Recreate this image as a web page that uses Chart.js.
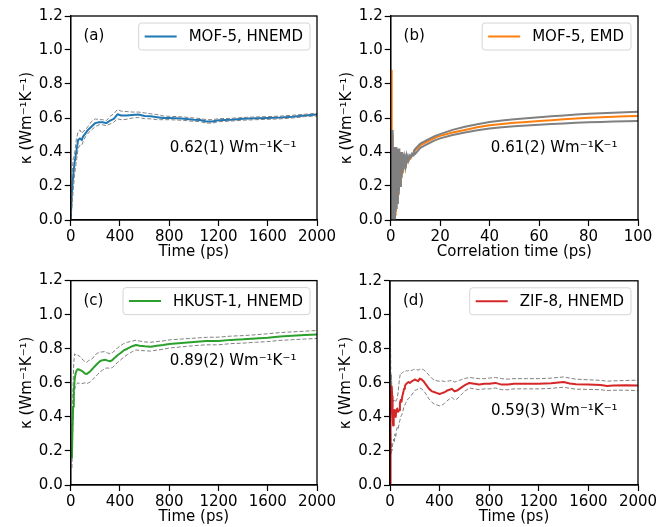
<!DOCTYPE html>
<html>
<head>
<meta charset="utf-8">
<script src="https://cdn.jsdelivr.net/npm/chart.js@4.4.1/dist/chart.umd.min.js"></script>
<style>
  html, body { margin: 0; padding: 0; background: #fff; overflow: hidden; }
  body { width: 670px; height: 527px; position: relative; }
  canvas { position: absolute; }
</style>
</head>
<body>
<canvas id="panelA"></canvas>
<canvas id="panelB"></canvas>
<canvas id="panelC"></canvas>
<canvas id="panelD"></canvas>
<script>
// (a) MOF-5, HNEMD
const aTime = [0, 10, 20, 30, 45, 60, 75, 90, 100, 120, 140, 170, 200, 230, 260, 290, 320, 350, 380, 410, 450, 500, 550, 600, 650, 700, 750, 800, 900, 1000, 1050, 1100, 1150, 1200, 1300, 1400, 1500, 1600, 1700, 1800, 1900, 2000];
const aKappa = [0, 0.17, 0.26, 0.33, 0.40, 0.47, 0.48, 0.47, 0.49, 0.51, 0.53, 0.55, 0.57, 0.575, 0.575, 0.57, 0.585, 0.595, 0.622, 0.615, 0.615, 0.618, 0.62, 0.612, 0.61, 0.605, 0.60, 0.60, 0.597, 0.59, 0.588, 0.58, 0.58, 0.587, 0.59, 0.595, 0.598, 0.60, 0.603, 0.608, 0.615, 0.62];
const aUpper = [0, 0.25, 0.36, 0.38, 0.47, 0.52, 0.53, 0.51, 0.52, 0.53, 0.55, 0.58, 0.595, 0.59, 0.59, 0.585, 0.61, 0.625, 0.65, 0.64, 0.638, 0.635, 0.635, 0.63, 0.625, 0.62, 0.612, 0.61, 0.607, 0.6, 0.597, 0.59, 0.59, 0.596, 0.598, 0.603, 0.606, 0.608, 0.611, 0.616, 0.622, 0.628];
const aLower = [0, 0.08, 0.17, 0.26, 0.34, 0.42, 0.44, 0.44, 0.46, 0.49, 0.51, 0.53, 0.55, 0.56, 0.56, 0.555, 0.565, 0.575, 0.595, 0.59, 0.592, 0.6, 0.603, 0.596, 0.595, 0.59, 0.59, 0.59, 0.587, 0.58, 0.579, 0.57, 0.57, 0.578, 0.582, 0.587, 0.59, 0.592, 0.595, 0.6, 0.608, 0.612];

// (b) MOF-5, EMD (correlation time in ps)
const bTime = [0, 0.2, 0.4, 0.6, 0.8, 1.0, 1.2, 1.4, 1.6, 1.8, 2.0, 2.3, 2.6, 2.9, 3.2, 3.5, 3.8, 4.1, 4.4, 4.7, 5.0, 5.5, 6, 6.5, 7, 7.5, 8, 8.5, 9, 9.5, 10, 12, 14, 16, 18, 20, 25, 30, 35, 40, 45, 50, 55, 60, 65, 70, 75, 80, 85, 90, 95, 100];
const bKappa = [0, 0.88, 0.2, 0.5, 0.1, 0.4, 0.0, 0.3, 0.0, 0.35, 0.03, 0.38, 0.1, 0.38, 0.15, 0.38, 0.2, 0.37, 0.25, 0.37, 0.28, 0.36, 0.31, 0.36, 0.34, 0.37, 0.36, 0.38, 0.38, 0.40, 0.41, 0.44, 0.455, 0.47, 0.485, 0.495, 0.515, 0.53, 0.545, 0.557, 0.565, 0.572, 0.577, 0.582, 0.587, 0.592, 0.597, 0.602, 0.605, 0.608, 0.61, 0.612];
const bUpper = [0, 0.15, 0.3, 0.53, 0.05, 0.43, 0.0, 0.42, 0.0, 0.43, 0.05, 0.43, 0.1, 0.42, 0.15, 0.42, 0.2, 0.40, 0.25, 0.40, 0.29, 0.39, 0.32, 0.38, 0.35, 0.38, 0.37, 0.39, 0.385, 0.41, 0.42, 0.45, 0.465, 0.48, 0.495, 0.505, 0.53, 0.548, 0.563, 0.576, 0.585, 0.593, 0.598, 0.604, 0.61, 0.615, 0.62, 0.625, 0.628, 0.631, 0.634, 0.637];
const bLowerTime = [0, 0.3, 0.5, 0.7, 0.9, 1.1, 1.3, 1.5, 1.7, 1.9, 2.15, 2.45, 2.75, 3.05, 3.35, 3.65, 3.95, 4.25, 4.55, 4.85, 5.25, 5.75, 6.25, 6.75, 7.25, 7.75, 8.25, 8.75, 9.25, 9.75, 10, 12, 14, 16, 18, 20, 25, 30, 35, 40, 45, 50, 55, 60, 65, 70, 75, 80, 85, 90, 95, 100];
const bLower = [0, 0.2, 0.0, 0.36, 0.0, 0.40, 0.0, 0.41, 0.0, 0.42, 0.07, 0.41, 0.12, 0.41, 0.17, 0.40, 0.22, 0.39, 0.27, 0.38, 0.30, 0.37, 0.33, 0.37, 0.35, 0.37, 0.37, 0.38, 0.38, 0.395, 0.39, 0.425, 0.44, 0.455, 0.47, 0.48, 0.5, 0.515, 0.528, 0.538, 0.546, 0.552, 0.556, 0.56, 0.564, 0.568, 0.572, 0.575, 0.577, 0.579, 0.581, 0.583];

// (c) HKUST-1, HNEMD
const cTime = [10, 15, 20, 25, 32, 40, 50, 60, 75, 90, 100, 115, 130, 145, 160, 180, 200, 220, 240, 260, 280, 300, 320, 340, 360, 380, 400, 430, 460, 500, 530, 560, 600, 650, 700, 750, 800, 900, 1000, 1100, 1200, 1300, 1400, 1500, 1600, 1700, 1800, 1900, 2000];
const cKappa = [0.157, 0.35, 0.46, 0.55, 0.62, 0.655, 0.675, 0.68, 0.675, 0.67, 0.665, 0.655, 0.652, 0.66, 0.668, 0.685, 0.70, 0.715, 0.728, 0.733, 0.735, 0.73, 0.726, 0.735, 0.748, 0.762, 0.772, 0.79, 0.80, 0.815, 0.822, 0.818, 0.814, 0.812, 0.818, 0.822, 0.828, 0.834, 0.84, 0.845, 0.845, 0.852, 0.855, 0.86, 0.865, 0.872, 0.876, 0.88, 0.884];
const cUpper = [0.3, 0.45, 0.6, 0.72, 0.77, 0.765, 0.77, 0.76, 0.755, 0.74, 0.735, 0.725, 0.72, 0.73, 0.735, 0.745, 0.765, 0.775, 0.78, 0.782, 0.783, 0.775, 0.77, 0.778, 0.79, 0.805, 0.815, 0.83, 0.838, 0.845, 0.85, 0.845, 0.84, 0.838, 0.842, 0.846, 0.852, 0.857, 0.862, 0.867, 0.868, 0.874, 0.877, 0.882, 0.888, 0.895, 0.899, 0.903, 0.907];
const cLower = [0.1, 0.3, 0.4, 0.5, 0.56, 0.585, 0.595, 0.6, 0.595, 0.595, 0.597, 0.6, 0.595, 0.6, 0.605, 0.62, 0.635, 0.65, 0.665, 0.675, 0.685, 0.687, 0.685, 0.69, 0.705, 0.72, 0.73, 0.75, 0.765, 0.783, 0.793, 0.79, 0.788, 0.786, 0.792, 0.797, 0.804, 0.811, 0.818, 0.823, 0.823, 0.83, 0.833, 0.838, 0.842, 0.849, 0.853, 0.857, 0.86];

// (d) ZIF-8, HNEMD
const dTime = [0, 3, 6, 9, 12, 15, 18, 21, 25, 30, 35, 40, 46, 52, 59, 66, 73, 80, 86, 93, 99, 106, 113, 120, 126, 133, 140, 150, 160, 170, 180, 190, 200, 214, 227, 240, 255, 270, 290, 315, 340, 360, 380, 400, 420, 440, 460, 480, 500, 520, 540, 560, 580, 600, 640, 680, 720, 760, 800, 850, 900, 950, 1000, 1100, 1200, 1300, 1400, 1450, 1500, 1600, 1700, 1750, 1800, 1900, 2000];
const dKappa = [0, 0.3, 0.55, 0.5, 0.57, 0.58, 0.52, 0.42, 0.35, 0.4, 0.44, 0.41, 0.40, 0.44, 0.45, 0.43, 0.44, 0.48, 0.5, 0.49, 0.52, 0.54, 0.565, 0.58, 0.59, 0.595, 0.60, 0.605, 0.60, 0.605, 0.612, 0.615, 0.62, 0.615, 0.61, 0.625, 0.62, 0.61, 0.59, 0.565, 0.55, 0.545, 0.54, 0.535, 0.54, 0.545, 0.555, 0.56, 0.565, 0.55, 0.555, 0.565, 0.575, 0.585, 0.6, 0.595, 0.59, 0.595, 0.595, 0.6, 0.59, 0.59, 0.595, 0.595, 0.595, 0.598, 0.605, 0.597, 0.592, 0.59, 0.588, 0.582, 0.585, 0.586, 0.585];
const dUpper = [0, 0.95, 0.7, 0.5, 0.65, 0.55, 0.5, 0.48, 0.49, 0.5, 0.495, 0.5, 0.49, 0.5, 0.51, 0.55, 0.6, 0.64, 0.66, 0.655, 0.66, 0.665, 0.665, 0.67, 0.668, 0.672, 0.67, 0.672, 0.675, 0.672, 0.675, 0.678, 0.68, 0.678, 0.675, 0.68, 0.682, 0.678, 0.665, 0.645, 0.625, 0.615, 0.612, 0.61, 0.612, 0.608, 0.61, 0.612, 0.615, 0.605, 0.61, 0.615, 0.62, 0.625, 0.632, 0.628, 0.625, 0.625, 0.628, 0.632, 0.625, 0.622, 0.625, 0.625, 0.625, 0.628, 0.635, 0.628, 0.622, 0.618, 0.615, 0.61, 0.612, 0.614, 0.616];
const dLower = [0, 0.1, 0.3, 0.18, 0.25, 0.2, 0.22, 0.24, 0.25, 0.27, 0.25, 0.3, 0.28, 0.32, 0.34, 0.33, 0.36, 0.38, 0.4, 0.41, 0.42, 0.44, 0.46, 0.47, 0.48, 0.49, 0.5, 0.51, 0.515, 0.525, 0.535, 0.545, 0.555, 0.56, 0.565, 0.57, 0.565, 0.555, 0.535, 0.505, 0.485, 0.475, 0.47, 0.465, 0.47, 0.48, 0.495, 0.505, 0.515, 0.5, 0.505, 0.52, 0.535, 0.55, 0.57, 0.565, 0.56, 0.565, 0.565, 0.57, 0.56, 0.56, 0.565, 0.565, 0.565, 0.568, 0.575, 0.568, 0.563, 0.562, 0.56, 0.555, 0.557, 0.557, 0.555];

const yTicks = [0, 0.2, 0.4, 0.6, 0.8, 1.0, 1.2];
const kappaTitle = 'κ (Wm⁻¹K⁻¹)';

const FONT_FAMILY = '"DejaVu Sans", sans-serif';
const FONT_SIZE = 15;
Chart.defaults.font.family = FONT_FAMILY;
Chart.defaults.font.size = FONT_SIZE;
Chart.defaults.color = '#000';

const pts = (xs, ys) => xs.map((x, i) => ({ x: x, y: ys[i] }));

// frame, panel tag, value note and legend box (matplotlib style)
const decorations = {
  id: 'decorations',
  afterDraw(chart, args, opts) {
    const { ctx, chartArea: a, scales } = chart;
    const w = a.right - a.left, h = a.bottom - a.top;
    ctx.save();
    ctx.strokeStyle = '#000';
    ctx.lineWidth = 1.3;
    ctx.strokeRect(a.left, a.top, w, h);

    ctx.font = FONT_SIZE + 'px ' + FONT_FAMILY;
    ctx.fillStyle = '#000';
    ctx.textBaseline = 'middle';
    ctx.textAlign = 'left';
    ctx.fillText(opts.tag, a.left + 0.052 * w, a.top + 0.1 * h);
    ctx.fillText(opts.note, scales.x.getPixelForValue(opts.noteAt[0]), scales.y.getPixelForValue(opts.noteAt[1]));

    const main = chart.data.datasets[0];
    const tw = ctx.measureText(main.label).width;
    const bw = 6 + 32 + 12 + tw + 7, bh = 27;
    const bx = a.right - 7 - bw, by = a.top + 7;
    ctx.beginPath();
    ctx.roundRect(bx, by, bw, bh, 3);
    ctx.fillStyle = 'rgba(255,255,255,0.8)';
    ctx.fill();
    ctx.strokeStyle = '#d5d5d5';
    ctx.lineWidth = 1;
    ctx.stroke();
    ctx.strokeStyle = main.borderColor;
    ctx.lineWidth = 2;
    ctx.beginPath();
    ctx.moveTo(bx + 6, by + bh / 2);
    ctx.lineTo(bx + 38, by + bh / 2);
    ctx.stroke();
    ctx.fillStyle = '#000';
    ctx.fillText(main.label, bx + 50, by + bh / 2 + 1);
    ctx.restore();
  }
};

const panels = [
  { id: 'panelA', left: 0, top: 0, w: 345, h: 264, area: { left: 70.7, top: 16, right: 317, bottom: 220 },
    tag: '(a)', label: 'MOF-5, HNEMD', color: '#1f77b4', xMax: 2000, xStep: 400, xTitle: 'Time (ps)',
    main: pts(aTime, aKappa), upper: pts(aTime, aUpper), lower: pts(aTime, aLower),
    note: '0.62(1) Wm⁻¹K⁻¹', noteAt: [805, 0.425], dashed: true, grayOnTop: true },
  { id: 'panelB', left: 335, top: 0, w: 335, h: 264, area: { left: 55.7, top: 16, right: 303, bottom: 220 },
    tag: '(b)', label: 'MOF-5, EMD', color: '#ff7f0e', xMax: 100, xStep: 20, xTitle: 'Correlation time (ps)',
    main: pts(bTime, bKappa), upper: pts(bTime, bUpper), lower: pts(bLowerTime, bLower),
    note: '0.61(2) Wm⁻¹K⁻¹', noteAt: [40.5, 0.425], dashed: false, grayOnTop: true },
  { id: 'panelC', left: 0, top: 264, w: 345, h: 280, area: { left: 70.7, top: 16.6, right: 317, bottom: 221 },
    tag: '(c)', label: 'HKUST-1, HNEMD', color: '#2ca02c', xMax: 2000, xStep: 400, xTitle: 'Time (ps)',
    main: pts(cTime, cKappa), upper: pts(cTime, cUpper), lower: pts(cTime, cLower),
    note: '0.89(2) Wm⁻¹K⁻¹', noteAt: [805, 0.725], dashed: true, grayOnTop: false },
  { id: 'panelD', left: 335, top: 264, w: 335, h: 280, area: { left: 55, top: 16.8, right: 303, bottom: 221 },
    tag: '(d)', label: 'ZIF-8, HNEMD', color: '#d62728', xMax: 2000, xStep: 400, xTitle: 'Time (ps)',
    main: pts(dTime, dKappa), upper: pts(dTime, dUpper), lower: pts(dTime, dLower),
    note: '0.59(3) Wm⁻¹K⁻¹', noteAt: [815, 0.432], dashed: true, grayOnTop: false }
];

panels.forEach((p) => {
  const canvas = document.getElementById(p.id);
  canvas.width = p.w;
  canvas.height = p.h;
  canvas.style.left = p.left + 'px';
  canvas.style.top = p.top + 'px';

  const grayStyle = {
    borderColor: '#808080',
    borderWidth: p.dashed ? 1 : 2,
    borderDash: p.dashed ? [4, 2] : [],
    pointRadius: 0,
    tension: 0,
    fill: false,
    order: p.grayOnTop ? 0 : 2
  };

  new Chart(canvas, {
    type: 'line',
    data: {
      datasets: [
        { label: p.label, data: p.main, borderColor: p.color, borderWidth: 2, pointRadius: 0, tension: 0,
          borderJoinStyle: 'round', fill: false, order: 1 },
        Object.assign({ label: 'upper', data: p.upper }, grayStyle),
        Object.assign({ label: 'lower', data: p.lower }, grayStyle)
      ]
    },
    options: {
      responsive: false,
      animation: false,
      devicePixelRatio: 1,
      layout: { padding: { top: p.area.top, right: p.w - p.area.right, left: 0, bottom: 0 } },
      plugins: {
        legend: { display: false },
        tooltip: { enabled: false },
        decorations: { tag: p.tag, note: p.note, noteAt: p.noteAt }
      },
      scales: {
        x: {
          type: 'linear',
          min: 0,
          max: p.xMax,
          ticks: { stepSize: p.xStep, maxRotation: 0, autoSkip: false, padding: 2, color: '#000',
            callback: (v) => String(v) },
          grid: { drawOnChartArea: false, drawTicks: true, tickLength: 6, tickColor: '#000', tickWidth: 1.2 },
          border: { display: true, color: '#000', width: 1.3 },
          // title centre sits about 32px under the axis line
          title: { display: true, text: p.xTitle, color: '#000',
            padding: { top: 0, bottom: p.h - 9 - (p.area.bottom + 32) } },
          afterFit: (s) => { s.height = p.h - p.area.bottom; }
        },
        y: {
          type: 'linear',
          min: 0,
          max: 1.2,
          afterBuildTicks: (s) => { s.ticks = yTicks.map((v) => ({ value: v })); },
          ticks: { padding: 2, color: '#000', callback: (v) => v.toFixed(1) },
          grid: { drawOnChartArea: false, drawTicks: true, tickLength: 6, tickColor: '#000', tickWidth: 1.2 },
          border: { display: true, color: '#000', width: 1.3 },
          title: { display: true, text: kappaTitle, color: '#000',
            padding: { top: p.area.left - 44 - 9, bottom: 0 } },
          afterFit: (s) => { s.width = p.area.left; }
        }
      }
    },
    plugins: [decorations]
  });
});
</script>
</body>
</html>
